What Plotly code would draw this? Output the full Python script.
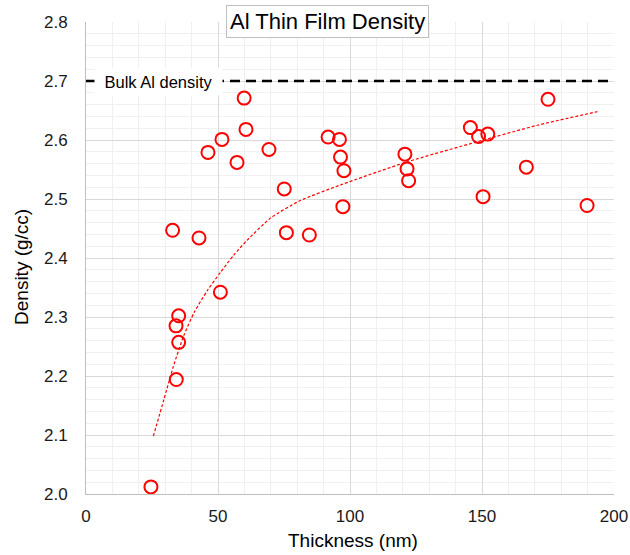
import plotly.graph_objects as go

# Measured film density vs thickness
thickness_nm = [24.6, 32.8, 34.1, 34.2, 35.1, 35.1, 42.8, 46.2, 50.9, 51.5, 57.2,
                59.9, 60.6, 69.3, 75.1, 75.9, 84.6, 91.7, 96.0, 96.4, 97.3, 97.7,
                120.8, 121.6, 122.2, 145.6, 148.7, 150.4, 152.2, 166.8, 175.0, 189.8]
density_gcc = [2.012, 2.447, 2.285, 2.194, 2.302, 2.257, 2.434, 2.579, 2.342, 2.601, 2.562,
               2.671, 2.618, 2.584, 2.517, 2.443, 2.439, 2.605, 2.601, 2.571, 2.487, 2.548,
               2.576, 2.551, 2.531, 2.621, 2.606, 2.504, 2.610, 2.554, 2.669, 2.489]

# Trend curve
trend_x = [25.5, 29.5, 33.0, 37.0, 41.0, 46.0, 51.0, 56.0, 61.0, 70.0, 81.0, 96.5,
           121.7, 148.2, 171.0, 193.7]
trend_y = [2.098, 2.160, 2.215, 2.268, 2.308, 2.345, 2.376, 2.405, 2.430, 2.468, 2.497,
           2.524, 2.563, 2.597, 2.625, 2.648]

# Bulk aluminium reference density
bulk_x = [0, 200]
bulk_y = [2.7, 2.7]

x_ticks = [0, 50, 100, 150, 200]
y_ticks = [2.0, 2.1, 2.2, 2.3, 2.4, 2.5, 2.6, 2.7, 2.8]

FONT = "Liberation Sans, Arial, sans-serif"

fig = go.Figure()

fig.add_trace(go.Scatter(
    x=bulk_x, y=bulk_y, mode="lines",
    line=dict(color="black", width=2.5, dash="10px,6px"),
    hoverinfo="skip", showlegend=False,
))

fig.add_trace(go.Scatter(
    x=trend_x, y=trend_y, mode="lines",
    line=dict(color="#ff0000", width=1.2, dash="3px,2px", shape="spline", smoothing=0.6),
    hoverinfo="skip", showlegend=False,
))

fig.add_trace(go.Scatter(
    x=thickness_nm, y=density_gcc, mode="markers",
    marker=dict(symbol="circle-open", size=13, color="#ff0000",
                line=dict(color="#ff0000", width=2)),
    showlegend=False,
))

fig.update_layout(
    width=630, height=555,
    margin=dict(l=86, r=16, t=22, b=61, autoexpand=False),
    paper_bgcolor="white", plot_bgcolor="white",
    font=dict(family=FONT, color="#1a1a1a", size=17),
    xaxis=dict(
        range=[0, 200], tickvals=x_ticks, ticktext=[str(v) for v in x_ticks],
        showgrid=True, gridcolor="#d9d9d9", gridwidth=1,
        minor=dict(dtick=10, showgrid=True, gridcolor="#f0f0f0", gridwidth=1),
        showline=True, linecolor="#bfbfbf", linewidth=1,
        zeroline=False, ticks="", ticklabelstandoff=7,
        tickfont=dict(size=17), automargin=False,
    ),
    yaxis=dict(
        range=[2.0, 2.8], tickvals=y_ticks, ticktext=[f"{v:.1f}" for v in y_ticks],
        showgrid=True, gridcolor="#d9d9d9", gridwidth=1,
        minor=dict(dtick=0.02, showgrid=True, gridcolor="#f0f0f0", gridwidth=1),
        showline=True, linecolor="#bfbfbf", linewidth=1,
        zeroline=False, ticks="", ticklabelstandoff=14,
        tickfont=dict(size=17), automargin=False,
    ),
    annotations=[
        dict(text="Al Thin Film Density", xref="paper", yref="paper",
             x=0.457, y=1.0017, xanchor="center", yanchor="middle", showarrow=False,
             font=dict(size=22, color="black"), bgcolor="white",
             bordercolor="#bfbfbf", borderwidth=1, borderpad=3),
        dict(text="Bulk Al density", xref="x", yref="y",
             x=27.4, y=2.7, xanchor="center", yanchor="middle", showarrow=False,
             font=dict(size=16.5, color="black"), bgcolor="white",
             width=127, height=27, borderpad=0),
        dict(text="Thickness (nm)", xref="paper", yref="paper",
             x=0.505, y=-0.0975, xanchor="center", yanchor="middle", showarrow=False,
             font=dict(size=19, color="black")),
        dict(text="Density (g/cc)", xref="paper", yref="paper",
             x=-0.1212, y=0.481, xanchor="center", yanchor="middle", showarrow=False,
             textangle=-90, font=dict(size=19, color="black")),
    ],
)

fig.write_html("out.html")
